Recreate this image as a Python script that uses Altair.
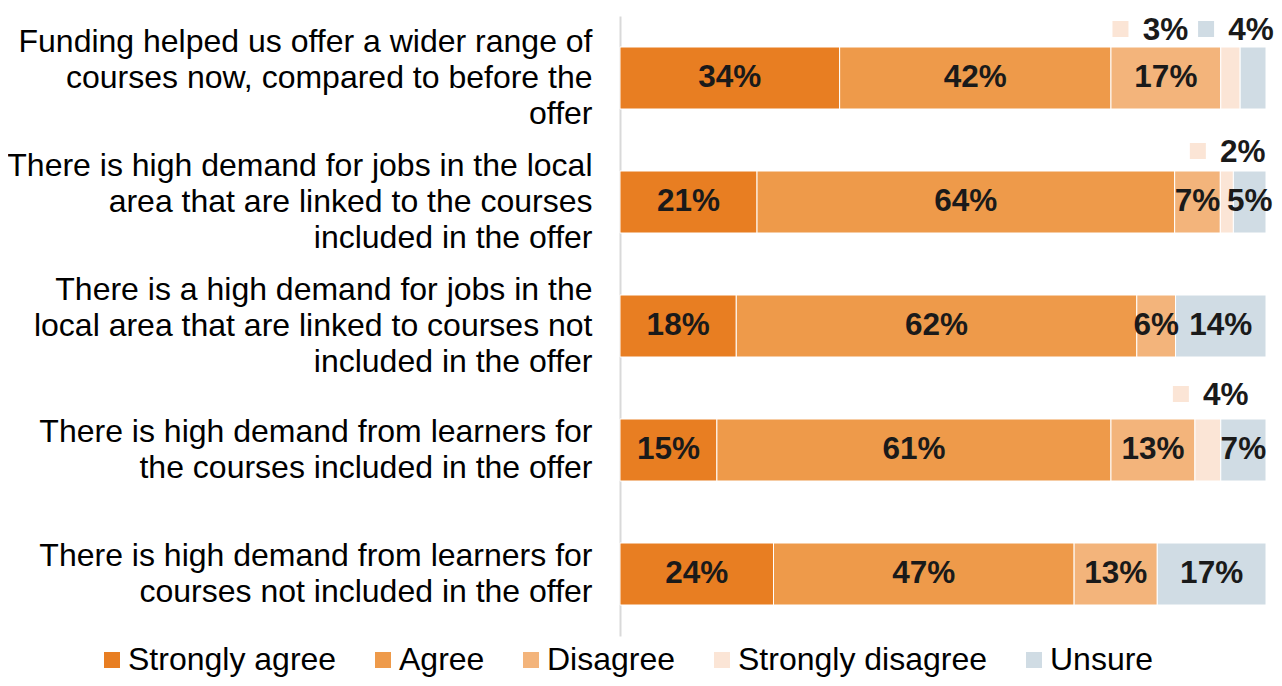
import altair as alt
import pandas as pd

categories = [
    "Funding helped us offer a wider range of|courses now, compared to before the|offer",
    "There is high demand for jobs in the local|area that are linked to the courses|included in the offer",
    "There is a high demand for jobs in the|local area that are linked to courses not|included in the offer",
    "There is high demand from learners for|the courses included in the offer",
    "There is high demand from learners for|courses not included in the offer",
]
series = ["Strongly agree", "Agree", "Disagree", "Strongly disagree", "Unsure"]
strongly_agree = [34, 21, 18, 15, 24]
agree = [42, 64, 62, 61, 47]
disagree = [17, 7, 6, 13, 13]
strongly_disagree = [3, 2, 0, 4, 0]
unsure = [4, 5, 14, 7, 17]
colors = ["#E87E22", "#EE9A4A", "#F3B47B", "#FBE5D6", "#D0DCE4"]

# labels drawn above the bar with a small key: (category index, series, dx, dy)
outside = [
    (0, "Strongly disagree", -65, -47),
    (0, "Unsure", -2, -47),
    (1, "Strongly disagree", 16, -49),
    (3, "Strongly disagree", 18, -54),
]
outside_keys = {(c, s) for c, s, _, _ in outside}

values = [strongly_agree, agree, disagree, strongly_disagree, unsure]
rows = []
for i, cat in enumerate(categories):
    total = sum(v[i] for v in values)
    cum = 0
    for j, s in enumerate(series):
        v = values[j][i]
        start = cum / total
        cum += v
        end = cum / total
        rows.append(dict(cat=cat, ci=i, series=s, value=v, start=start, end=end,
                         mid=(start + end) / 2, label=f"{v}%",
                         out=(i, s) in outside_keys))
df = pd.DataFrame(rows)
df = df[df["value"] > 0]

FONT = "Liberation Sans"

y_enc = alt.Y(
    "cat:N",
    sort=categories,
    scale=alt.Scale(paddingInner=0.5, paddingOuter=0.25),
    axis=alt.Axis(
        title=None, ticks=False, domainColor="#d9d9d9", domainWidth=2,
        labelFontSize=32, labelFont=FONT, labelColor="#000000",
        labelPadding=28, labelLimit=0, labelLineHeight=36,
        labelExpr="split(datum.label, '|')", labelAlign="right",
        labelOffset={
            "condition": {"test": "length(split(datum.label, '|')) == 3", "value": -36},
            "value": -18,
        },
    ),
)
x_scale = alt.Scale(domain=[0, 1])

bars = alt.Chart(df).mark_bar(stroke="white", strokeWidth=1).encode(
    y=y_enc,
    x=alt.X("start:Q", scale=x_scale, axis=None),
    x2="end:Q",
    color=alt.Color(
        "series:N",
        scale=alt.Scale(domain=series, range=colors),
        legend=alt.Legend(
            title=None, orient="none", direction="horizontal",
            legendX=-524, legendY=628, columns=5,
            symbolType="square", symbolSize=256, symbolStrokeWidth=0,
            labelFontSize=32, labelFont=FONT, labelColor="#000000",
            labelOffset=0, columnPadding=30, labelLimit=0, padding=0,
        ),
    ),
)

inside = alt.Chart(df[~df["out"]]).mark_text(
    font=FONT, fontSize=31.5, fontWeight="bold", color="#1a1a1a"
).encode(y=y_enc, x=alt.X("mid:Q", scale=x_scale), text="label:N")

layers = [bars, inside]
for ci, s, dx, dy in outside:
    sub = df[(df["ci"] == ci) & (df["series"] == s)]
    layers.append(
        alt.Chart(sub).mark_text(
            font=FONT, fontSize=31.5, fontWeight="bold", color="#1a1a1a",
            dx=dx, dy=dy,
        ).encode(y=y_enc, x=alt.X("mid:Q", scale=x_scale), text="label:N")
    )
    layers.append(
        alt.Chart(sub).mark_square(
            size=256, filled=True, opacity=1,
            color=colors[series.index(s)],
            xOffset=dx - 45, yOffset=dy - 2,
        ).encode(y=y_enc, x=alt.X("mid:Q", scale=x_scale))
    )

chart = alt.layer(*layers).properties(
    width=646, height=620,
    autosize=alt.AutoSizeParams(type="none"),
    padding={"left": 612, "top": 8, "right": 8, "bottom": 42},
).configure_view(stroke=None)

chart.save("out.html", embed_options={"renderer": "svg", "actions": False})
